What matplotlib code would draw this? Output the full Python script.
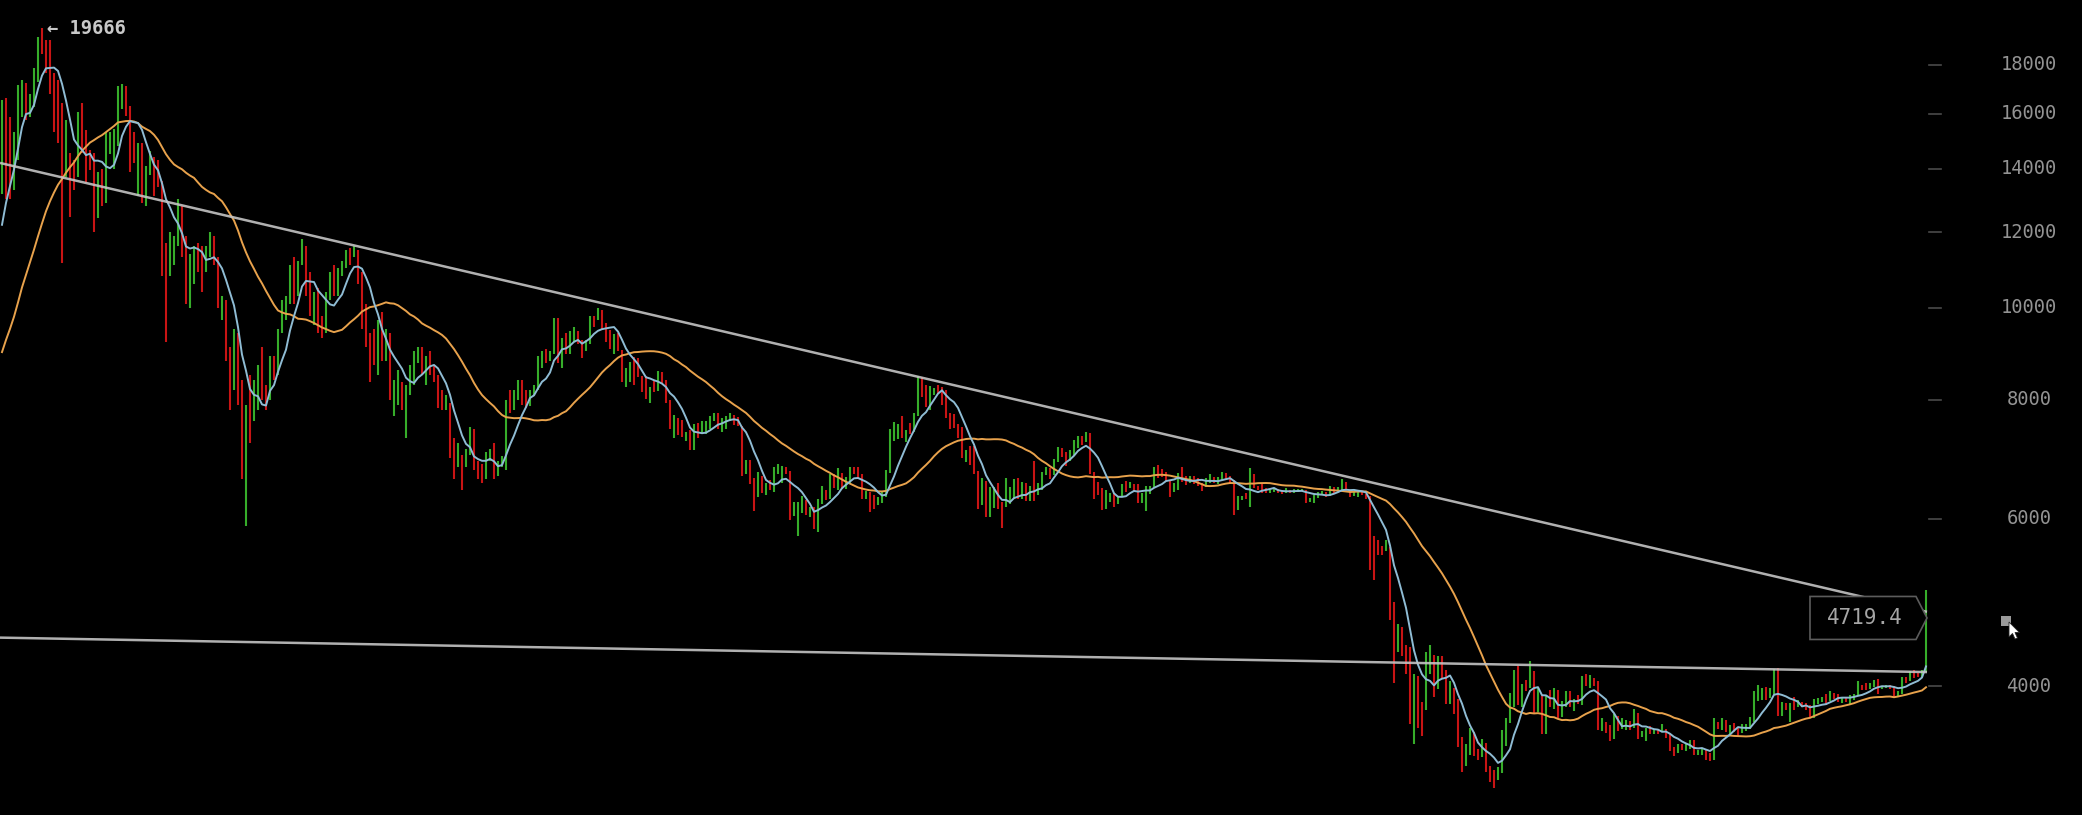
import numpy as np
import pandas as pd
import matplotlib
matplotlib.use("Agg")
import matplotlib.pyplot as plt
from matplotlib.patches import Polygon
from matplotlib.transforms import IdentityTransform

# ---------------- data (daily BTC/USD, 2017-12-07 .. 2019-04-02) ----------------
start_date = "2017-12-07"

# closes of the 29 days before the first visible bar (needed to start the averages)
warmup_closes = [7460, 7140, 6620, 6360, 5950, 6560, 6640, 7310, 7810, 7790, 7820, 8040,
                 8240, 8100, 8250, 8030, 8250, 8750, 9320, 9730, 9900, 9840, 10000,
                 10850, 10930, 11290, 11640, 11670, 12900]

closes = [
    # Dec 2017
    16300, 15500, 14700, 15100, 16700, 17200, 16400, 16600, 17700, 19200, 19000, 18900, 17300,
    16500, 15600, 13900, 14400, 13800, 13700, 15800, 15400, 14300, 14250, 12700, 13800,
    # Jan 2018
    13400, 14700, 15000, 15100, 17000, 17100, 16200, 14900, 14400, 14800, 13300, 13800, 14200,
    13600, 13550, 11400, 11200, 11500, 11700, 12900, 11600, 10900, 11000, 11400, 11200, 11100,
    11400, 11800, 11200, 10100, 10200,
    # Feb 2018
    9100, 8800, 9200, 8200, 6900, 7700, 7600, 8300, 8600, 8100, 8050, 8900, 8500, 9500, 10000,
    10200, 11100, 10400, 11100, 11400, 10500, 9900, 10100, 9600, 9580, 10300, 10600, 10300,
    # Mar 2018
    10900, 11000, 11500, 11450, 11500, 10700, 9900, 9300, 9200, 8800, 9500, 9100, 9150, 8200,
    8250, 8300, 7900, 8200, 8600, 8900, 8950, 8700, 8900, 8500, 8400, 8100, 7800, 7900, 7100,
    6800, 6900,
    # Apr 2018
    6800, 7050, 7400, 6800, 6780, 6600, 6900, 7020, 6770, 6830, 6930, 7920, 7890, 8000, 8350,
    8060, 7890, 8160, 8280, 8860, 8920, 8800, 8940, 9650, 8860, 9280, 8990, 9350, 9390, 9240,
    # May 2018
    9070, 9220, 9740, 9700, 9850, 9650, 9370, 9190, 9310, 9010, 8410, 8480, 8720, 8680, 8470,
    8340, 8060, 8240, 8230, 8530, 8390, 7990, 7500, 7580, 7460, 7350, 7370, 7130, 7470, 7400,
    7490,
    # Jun 2018
    7530, 7640, 7720, 7500, 7630, 7650, 7680, 7620, 7530, 6780, 6900, 6580, 6340, 6640, 6400,
    6500, 6460, 6700, 6730, 6760, 6720, 6050, 6130, 6150, 6250, 6090, 6150, 5900, 6220, 6400,
    # Jul 2018
    6360, 6620, 6510, 6590, 6530, 6600, 6760, 6710, 6660, 6310, 6380, 6240, 6230, 6270, 6350,
    6740, 7320, 7380, 7470, 7330, 7410, 7400, 7720, 8400, 8170, 7940, 8180, 8230, 8220, 8180,
    7730,
    # Aug 2018
    7620, 7540, 7420, 7010, 7030, 6940, 6720, 6280, 6540, 6150, 6240, 6320, 6250, 6190, 6270,
    6310, 6580, 6390, 6490, 6270, 6480, 6360, 6530, 6690, 6740, 6700, 6910, 7090, 7040, 6980,
    7020,
    # Sep 2018
    7190, 7270, 7260, 7360, 6700, 6500, 6410, 6200, 6250, 6320, 6290, 6330, 6490, 6480, 6520,
    6500, 6250, 6350, 6390, 6490, 6770, 6720, 6710, 6590, 6440, 6470, 6690, 6630, 6590, 6630,
    # Oct 2018
    6590, 6530, 6490, 6580, 6630, 6580, 6610, 6700, 6650, 6590, 6260, 6310, 6320, 6310, 6650,
    6490, 6460, 6410, 6400, 6420, 6425, 6410, 6400, 6430, 6410, 6420, 6430, 6435, 6280, 6290,
    6330,
    # Nov 2018
    6370, 6390, 6360, 6470, 6420, 6460, 6540, 6420, 6350, 6380, 6390, 6360, 6330, 5740, 5640,
    5600, 5590, 5620, 4860, 4480, 4600, 4380, 4330, 3880, 4010, 3820, 3800, 4260, 4270, 4020,
    # Dec 2018
    4200, 4150, 3880, 3960, 3760, 3500, 3400, 3420, 3550, 3420, 3380, 3490, 3280, 3240, 3200,
    3250, 3540, 3690, 3840, 4140, 3890, 4000, 3980, 4150, 3880, 3900, 3600, 3880, 3820, 3950,
    3740,
    # Jan 2019
    3840, 3940, 3840, 3870, 3840, 4080, 4030, 4040, 4035, 3650, 3660, 3620, 3520, 3710, 3610,
    3650, 3680, 3620, 3730, 3550, 3570, 3600, 3570, 3600, 3590, 3600, 3560, 3440, 3410, 3460,
    3440,
    # Feb 2019
    3470, 3500, 3400, 3410, 3430, 3370, 3360, 3640, 3635, 3690, 3600, 3620, 3600, 3580, 3600,
    3630, 3680, 3900, 3910, 3960, 3900, 3960, 4120, 3740, 3830, 3810, 3820, 3815,
    # Mar 2019
    3830, 3825, 3800, 3710, 3860, 3870, 3880, 3870, 3940, 3920, 3870, 3890, 3870, 3880, 3920,
    4010, 3980, 3975, 4020, 4050, 3980, 3990, 4000, 3990, 3920, 3940, 4080, 4060, 4140, 4120,
    4110,
    # Apr 2019
    4150, 4719.4,
]

highs = [
    # Dec 2017
    16540, 16600, 15870, 15300, 17140, 17360, 17250, 16780, 17870, 19250, 19666, 19120, 19120,
    17650, 17360, 16420, 15760, 14550, 14300, 16070, 16420, 15380, 14660, 14550, 13900,
    # Jan 2018
    14000, 15300, 15300, 15400, 17100, 17200, 17100, 16300, 15300, 14900, 14900, 14100, 14600,
    14400, 14300, 13600, 11700, 12000, 11900, 13000, 12800, 11900, 11400, 11600, 11700, 11600,
    11600, 12000, 11900, 11300, 10300,
    # Feb 2018
    10200, 9100, 9500, 9400, 8400, 7900, 8500, 8400, 8700, 9100, 8300, 8900, 8900, 9500, 10200,
    10300, 11100, 11300, 11200, 11800, 11600, 10900, 10400, 10500, 9800, 10400, 10900, 11100,
    # Mar 2018
    11000, 11200, 11500, 11550, 11600, 11500, 10900, 10100, 9400, 9500, 9700, 9900, 9500, 9400,
    8400, 8600, 8350, 8300, 8700, 9000, 9100, 9100, 8900, 9000, 8700, 8500, 8200, 8100, 7950,
    7300, 7200,
    # Apr 2018
    7000, 7100, 7500, 7450, 6900, 6850, 7050, 7100, 7200, 6900, 6980, 8000, 8200, 8200, 8400,
    8400, 8200, 8200, 8300, 8900, 9000, 9050, 9000, 9750, 9750, 9300, 9400, 9450, 9550, 9450,
    # May 2018
    9250, 9250, 9800, 9800, 9990, 9950, 9650, 9480, 9380, 9400, 9020, 8650, 8780, 8880, 8850,
    8480, 8480, 8260, 8380, 8580, 8550, 8400, 8000, 7720, 7650, 7620, 7400, 7440, 7550, 7570,
    7600,
    # Jun 2018
    7600, 7700, 7760, 7760, 7660, 7700, 7760, 7710, 7680, 7520, 6920, 6920, 6620, 6720, 6660,
    6550, 6590, 6800, 6850, 6820, 6800, 6730, 6250, 6250, 6340, 6280, 6180, 6170, 6300, 6500,
    # Jul 2018
    6430, 6680, 6680, 6780, 6700, 6640, 6800, 6800, 6800, 6680, 6420, 6400, 6350, 6330, 6400,
    6750, 7450, 7580, 7550, 7690, 7440, 7560, 7750, 8480, 8450, 8300, 8280, 8240, 8290, 8260,
    8200,
    # Aug 2018
    7750, 7730, 7550, 7500, 7080, 7150, 7150, 6730, 6620, 6580, 6480, 6480, 6540, 6250, 6620,
    6480, 6600, 6620, 6560, 6540, 6500, 6900, 6550, 6720, 6800, 6780, 6930, 7140, 7130, 7060,
    7080,
    # Sep 2018
    7260, 7330, 7340, 7400, 7390, 6720, 6560, 6470, 6430, 6380, 6380, 6340, 6530, 6580, 6560,
    6530, 6530, 6380, 6500, 6500, 6800, 6830, 6770, 6720, 6590, 6550, 6710, 6800, 6650, 6650,
    # Oct 2018
    6650, 6620, 6550, 6620, 6680, 6640, 6640, 6720, 6700, 6650, 6590, 6340, 6340, 6380, 6780,
    6680, 6500, 6520, 6470, 6440, 6470, 6450, 6430, 6470, 6440, 6450, 6450, 6450, 6440, 6310,
    6350,
    # Nov 2018
    6400, 6420, 6400, 6500, 6480, 6480, 6600, 6560, 6430, 6400, 6400, 6420, 6370, 6340, 5750,
    5700, 5620, 5700, 5600, 4900, 4650, 4620, 4420, 4400, 4120, 4100, 3850, 4350, 4420, 4310,
    # Dec 2018
    4300, 4300, 4160, 4050, 3980, 3880, 3540, 3480, 3620, 3580, 3440, 3520, 3490, 3300, 3270,
    3290, 3600, 3700, 3940, 4160, 4200, 4020, 4060, 4250, 4150, 3980, 3910, 3920, 3960, 3980,
    3960,
    # Jan 2019
    3860, 3950, 3950, 3880, 3920, 4100, 4120, 4110, 4080, 4050, 3700, 3670, 3640, 3740, 3720,
    3700, 3690, 3680, 3790, 3750, 3590, 3620, 3630, 3610, 3610, 3650, 3610, 3560, 3450, 3480,
    3480,
    # Feb 2019
    3490, 3510, 3510, 3430, 3440, 3440, 3400, 3700, 3670, 3700, 3690, 3640, 3660, 3620, 3650,
    3650, 3710, 3950, 4010, 3980, 3990, 3980, 4170, 4180, 3850, 3840, 3840, 3900,
    # Mar 2019
    3870, 3850, 3840, 3820, 3880, 3890, 3900, 3930, 3950, 3940, 3930, 3900, 3900, 3920, 3930,
    4050, 4010, 4030, 4030, 4060, 4070, 4000, 4010, 4010, 4000, 3950, 4090, 4090, 4150, 4160,
    4130,
    # Apr 2019
    4160, 5050,
]

lows = [
    # Dec 2017
    13160, 13000, 13000, 13300, 14300, 15870, 15760, 15870, 16260, 17270, 18470, 17650, 16780,
    15300, 14900, 11150, 13730, 12460, 13290, 13730, 14550, 13530, 13960, 12010, 12430,
    # Jan 2018
    12800, 12900, 14500, 14000, 14800, 16200, 15900, 13900, 14200, 13100, 12900, 12800, 13800,
    13100, 13400, 10800, 9200, 10800, 11100, 11600, 11300, 10100, 10000, 10600, 10900, 10400,
    10900, 11300, 11100, 10000, 9700,
    # Feb 2018
    8800, 7800, 8200, 7900, 6600, 5900, 7200, 7600, 7800, 8000, 7800, 8000, 8400, 8500, 9400,
    9700, 10100, 10100, 10300, 11100, 10300, 9800, 9600, 9400, 9300, 9400, 10200, 10300,
    # Mar 2018
    10300, 10800, 11000, 11100, 11300, 10600, 9500, 9100, 8350, 8700, 8500, 8800, 8800, 8000,
    7700, 7900, 7800, 7300, 8100, 8300, 8750, 8500, 8300, 8500, 8350, 7850, 7800, 7800, 6950,
    6600, 6800,
    # Apr 2018
    6430, 6800, 7000, 6750, 6600, 6550, 6600, 6900, 6600, 6650, 6800, 6750, 7750, 7800, 8000,
    7900, 7850, 7880, 8100, 8200, 8650, 8750, 8800, 8950, 8750, 8650, 8950, 8950, 9200, 9150,
    # May 2018
    8850, 9000, 9150, 9550, 9700, 9500, 9200, 9050, 8950, 9000, 8350, 8250, 8350, 8300, 8450,
    8150, 8020, 7950, 8150, 8180, 8330, 7950, 7450, 7300, 7350, 7320, 7250, 7080, 7080, 7300,
    7380,
    # Jun 2018
    7360, 7460, 7600, 7450, 7400, 7460, 7600, 7530, 7510, 6650, 6680, 6520, 6120, 6320, 6380,
    6360, 6440, 6400, 6680, 6550, 6680, 5980, 6040, 5760, 6090, 6050, 6020, 5860, 5810, 6220,
    # Jul 2018
    6280, 6300, 6460, 6430, 6450, 6450, 6530, 6680, 6620, 6290, 6300, 6100, 6140, 6200, 6240,
    6330, 6700, 7250, 7280, 7300, 7230, 7370, 7400, 7700, 8050, 7860, 7810, 8090, 8120, 7900,
    7650,
    # Aug 2018
    7460, 7470, 7300, 6950, 6880, 6840, 6680, 6140, 6200, 6030, 6020, 6160, 6140, 5870, 6180,
    6220, 6290, 6300, 6300, 6260, 6260, 6270, 6350, 6440, 6670, 6600, 6670, 6880, 6960, 6820,
    6900,
    # Sep 2018
    7010, 7130, 7180, 7230, 6680, 6300, 6360, 6130, 6150, 6250, 6180, 6220, 6330, 6400, 6470,
    6410, 6240, 6230, 6120, 6370, 6480, 6630, 6640, 6580, 6320, 6400, 6430, 6560, 6510, 6540,
    # Oct 2018
    6530, 6500, 6420, 6480, 6550, 6550, 6530, 6590, 6610, 6520, 6060, 6130, 6280, 6290, 6180,
    6460, 6440, 6380, 6380, 6390, 6400, 6380, 6370, 6390, 6390, 6390, 6400, 6410, 6230, 6250,
    6240,
    # Nov 2018
    6310, 6350, 6330, 6340, 6390, 6400, 6440, 6400, 6320, 6340, 6330, 6350, 6300, 5300, 5170,
    5500, 5500, 5550, 4700, 4030, 4350, 4300, 4120, 3650, 3480, 3620, 3550, 3780, 4120, 3900,
    # Dec 2018
    3970, 4080, 3830, 3830, 3740, 3450, 3250, 3300, 3390, 3380, 3350, 3370, 3250, 3170, 3130,
    3190, 3240, 3460, 3660, 3800, 3820, 3800, 3950, 3980, 3750, 3760, 3560, 3560, 3800, 3790,
    3700,
    # Jan 2019
    3710, 3800, 3800, 3770, 3830, 3820, 4000, 3980, 4000, 3600, 3590, 3570, 3500, 3520, 3590,
    3610, 3600, 3600, 3620, 3520, 3540, 3500, 3560, 3560, 3560, 3580, 3530, 3420, 3380, 3400,
    3430,
    # Feb 2019
    3420, 3440, 3390, 3390, 3390, 3350, 3340, 3350, 3610, 3600, 3580, 3550, 3580, 3550, 3570,
    3590, 3610, 3670, 3860, 3870, 3870, 3890, 3930, 3720, 3720, 3780, 3670, 3780,
    # Mar 2019
    3800, 3800, 3780, 3700, 3700, 3830, 3850, 3820, 3860, 3880, 3850, 3840, 3850, 3830, 3870,
    3920, 3960, 3960, 3970, 3990, 3930, 3970, 3980, 3970, 3900, 3910, 3930, 4030, 4050, 4080,
    4090,
    # Apr 2019
    4090, 4140,
]

# moving-average windows (days)
fast_window = 7
slow_window = 30

# hand-drawn trend lines: (bar index, price) at both ends
upper_trend_x = [-0.5, 481.25]
upper_trend_y = [14200, 4790]
lower_trend_x = [-0.5, 481.25]
lower_trend_y = [4500, 4140]

peak_value = 19666
last_price = 4719.4
tick_values = [18000, 16000, 14000, 12000, 10000, 8000, 6000, 4000]

# ---------------- derived ----------------
n = len(closes)
dates = pd.date_range(start_date, periods=n, freq="D")
x = np.arange(n)
opens = [warmup_closes[-1]] + closes[:-1]
up = np.array(closes) >= np.array(opens)

GREEN = "#36ad2a"
RED = "#c81414"
colors = np.where(up, GREEN, RED)

all_closes = pd.Series(warmup_closes + closes, dtype=float)
ma_fast = all_closes.rolling(fast_window).mean().to_numpy()[len(warmup_closes):]
ma_slow = all_closes.rolling(slow_window).mean().to_numpy()[len(warmup_closes):]

# ---------------- figure ----------------
W, H = 2082, 815
fig = plt.figure(figsize=(W / 100, H / 100), dpi=100, facecolor="black")
ax = fig.add_axes([0, 0, 1, 1])
ax.set_facecolor("black")
ax.set_yscale("log")
ax.set_xlim(-0.5, 520)
ax.set_ylim(2929, 21067)
ax.axis("off")

ax.vlines(x, lows, highs, colors=colors, linewidth=1.5, zorder=2)
ax.plot(x, ma_slow, color="#e8a24c", lw=1.4, zorder=3)
ax.plot(x, ma_fast, color="#8fbcd4", lw=1.4, zorder=4)
ax.plot(upper_trend_x, upper_trend_y, color="#c4c4c4", lw=1.8, alpha=0.9, zorder=5,
        solid_capstyle="butt")
ax.plot(lower_trend_x, lower_trend_y, color="#c4c4c4", lw=1.8, alpha=0.9, zorder=5,
        solid_capstyle="butt")

# right-hand price scale
ytr = ax.get_yaxis_transform()
for v in tick_values:
    ax.plot([1929 / W, 1941 / W], [v, v], transform=ytr, color="#4a4a4a", lw=1.2,
            clip_on=False)
    ax.text(2029 / W, v, str(v), transform=ytr, ha="center", va="center",
            color="#939393", fontsize=13.5, family="DejaVu Sans Mono")

# peak annotation
peak_idx = int(np.argmax(highs))
ax.annotate("\u2190 " + str(peak_value), xy=(peak_idx, peak_value), xytext=(3.5, 0),
            textcoords="offset points", ha="left", va="center", color="#c8c8c8",
            fontsize=13.5, fontweight="bold", family="DejaVu Sans Mono")

# last-price tag (pentagon pointing at the last bar)
fig.canvas.draw()
tip_x, tip_y = ax.transData.transform((n - 1 + 0.25, last_price))
half = 21.5
tag = Polygon([(tip_x - 117, tip_y - half), (tip_x - 11, tip_y - half), (tip_x, tip_y),
               (tip_x - 11, tip_y + half), (tip_x - 117, tip_y + half)], closed=True,
              transform=IdentityTransform(), facecolor="black", edgecolor="#5c5c5c",
              lw=1.2, zorder=6)
fig.add_artist(tag)
fig.text((tip_x - 62) / W, tip_y / H, f"{last_price:.1f}", ha="center", va="center",
         color="#a6a6a6", fontsize=15, family="DejaVu Sans Mono", zorder=7)

# mouse cursor remnant on the right
def px(xp, yp):
    return (xp, H - yp)

sq = Polygon([px(2001, 616), px(2011, 616), px(2011, 626), px(2001, 626)], closed=True,
             transform=IdentityTransform(), facecolor="#9a9a9a", edgecolor="none", zorder=8)
fig.add_artist(sq)
cx, cy = 2009, 622
arrow = [(0, 0), (0, 15), (3.5, 11.5), (6, 17), (8.5, 16), (6, 10.5), (10.5, 10.5)]
cursor = Polygon([px(cx + a, cy + b) for a, b in arrow], closed=True,
                 transform=IdentityTransform(), facecolor="white", edgecolor="#222222",
                 lw=0.6, zorder=9)
fig.add_artist(cursor)

fig.savefig("out.png", dpi=100, facecolor="black")
